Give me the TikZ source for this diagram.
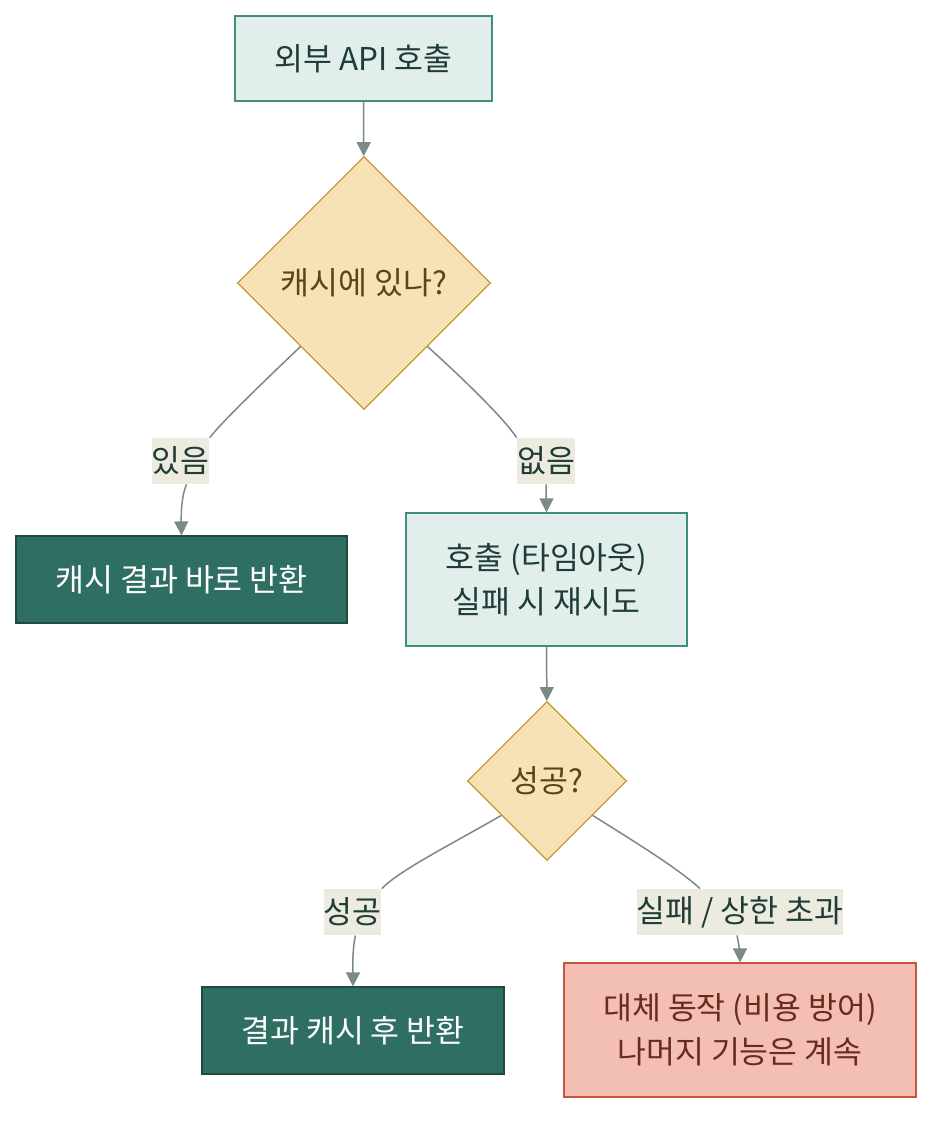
\documentclass[tikz,border=0pt]{standalone}
\usepackage{fontspec}
\setmainfont{Noto Sans CJK KR}
\usetikzlibrary{arrows.meta,positioning,shapes.geometric}

\definecolor{procFill}{HTML}{E1EEEB}
\definecolor{procLine}{HTML}{3F8F80}
\definecolor{procText}{HTML}{1F3D36}
\definecolor{decFill}{HTML}{F7E2B6}
\definecolor{decLine}{HTML}{C4973A}
\definecolor{decText}{HTML}{5C4318}
\definecolor{doneFill}{HTML}{2F6E63}
\definecolor{doneLine}{HTML}{1E4A42}
\definecolor{failFill}{HTML}{F4BFB3}
\definecolor{failLine}{HTML}{C8553D}
\definecolor{failText}{HTML}{6B2A20}
\definecolor{lblFill}{HTML}{EDEAE0}
\definecolor{edgeCol}{HTML}{7A8A86}

\begin{document}
\begin{tikzpicture}[
    x=0.5pt, y=-0.5pt,
    font=\fontsize{15.7}{22}\selectfont,
    proc/.style={draw=procLine, fill=procFill, text=procText, line width=0.6pt, align=center, inner sep=0pt},
    dec/.style={diamond, aspect=1, draw=decLine, fill=decFill, text=decText, line width=0.6pt, inner sep=0pt},
    done/.style={draw=doneLine, fill=doneFill, text=white, line width=0.6pt, align=center, inner sep=0pt},
    fail/.style={draw=failLine, fill=failFill, text=failText, line width=0.6pt, align=center, inner sep=0pt},
    lbl/.style={fill=lblFill, text=procText, inner sep=0pt, minimum height=23pt},
    ar/.style={draw=edgeCol, line width=0.75pt, -{Triangle[length=7pt, width=7pt]}},
    ln/.style={draw=edgeCol, line width=0.75pt},
  ]
    \useasboundingbox (0,0) rectangle (948,1132);

    \node[proc, minimum width=128.5pt, minimum height=42.5pt] (call) at (363.5,58.5) {외부 API 호출};
    \node[dec, minimum width=126.5pt, minimum height=126.5pt] (cache) at (364,283) {캐시에 있나?};
    \node[done, minimum width=165.5pt, minimum height=43.5pt] (hit) at (181.5,579.5) {캐시 결과 바로 반환};
    \node[proc, minimum width=140.5pt, minimum height=66.5pt] (retry) at (546.5,579.5) {호출 (타임아웃)\\실패 시 재시도};
    \node[dec, minimum width=79.5pt, minimum height=79.5pt] (ok) at (547,781) {성공?};
    \node[done, minimum width=151pt, minimum height=43.5pt] (save) at (353,1030.5) {결과 캐시 후 반환};
    \node[fail, minimum width=176pt, minimum height=67pt] (fallback) at (740,1030) {대체 동작 (비용 방어)\\나머지 기능은 계속};

    \node[lbl, minimum width=27.5pt] (yes) at (180.5,461) {있음};
    \node[lbl, minimum width=29pt] (no) at (546,461) {없음};
    \node[lbl, minimum width=28.5pt] (succ) at (352.5,912) {성공};
    \node[lbl, minimum width=103pt] (over) at (740,912) {실패 / 상한 초과};

    \draw[ar] (call) -- (cache);
    \draw[ln] (cache.south west) .. controls (255,390) and (222,422) .. (yes.north east);
    \draw[ar] ([xshift=3pt]yes.south) .. controls (182,495) and (181,510) .. (hit.north);
    \draw[ln] (cache.south east) .. controls (470,385) and (505,420) .. (no.north west);
    \draw[ar] (no.south) .. controls (546,495) and (546.5,505) .. (retry.north);
    \draw[ar] (retry) -- (ok);
    \draw[ln] (ok.217) .. controls (450,845) and (400,870) .. (succ.north east);
    \draw[ar] ([xshift=1.5pt]succ.south) .. controls (352,950) and (353,970) .. (save.north);
    \draw[ln] (ok.323) .. controls (640,845) and (680,870) .. ([xshift=-20pt]over.north);
    \draw[ar] ([xshift=-1.5pt]over.south) .. controls (739,945) and (740,955) .. (fallback.north);
\end{tikzpicture}
\end{document}
